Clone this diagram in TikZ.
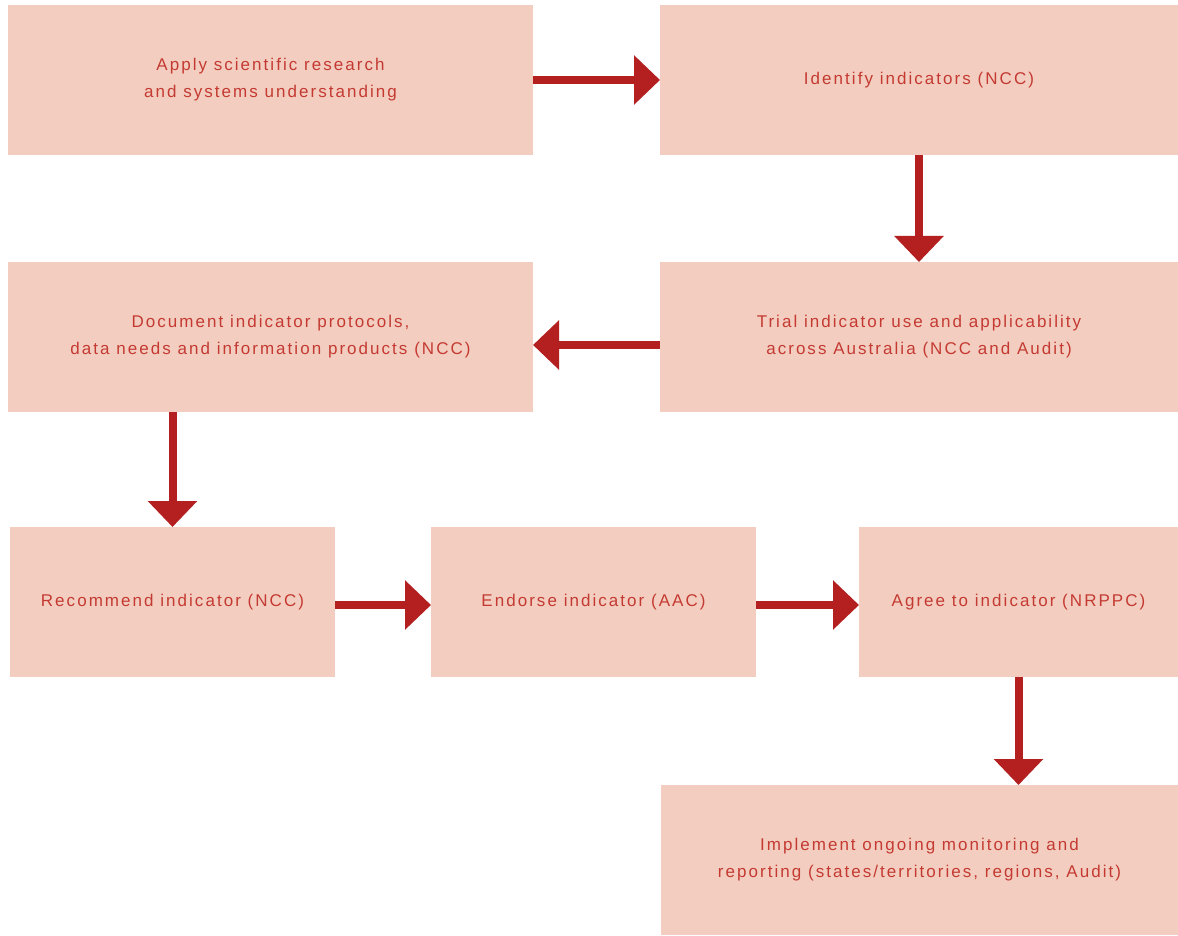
\documentclass[tikz,border=0pt]{standalone}
\usepackage{fontspec}
\newfontfamily\boxfont[LetterSpace=12]{Liberation Sans}
\usetikzlibrary{arrows.meta}
\definecolor{boxfill}{HTML}{F3CEC0}
\definecolor{boxtext}{HTML}{C43A32}
\definecolor{arrowred}{HTML}{B3201F}
\tikzset{
  stepbox/.style={rectangle, draw=none, fill=boxfill, inner sep=0pt, outer sep=0pt,
    minimum height=150pt, text=boxtext, align=center,
    font=\boxfont\fontsize{17}{27}\selectfont},
  flow/.style={draw=arrowred, line width=8pt,
    -{Triangle[width=48pt,length=26pt]}, arrowred}
}
\begin{document}
\begin{tikzpicture}[x=1pt,y=-1pt]
\useasboundingbox (0,0) rectangle (1178,936);
\fill[white] (0,0) rectangle (1178,936);
\node[stepbox, minimum width=525pt] (b1) at (270.5,80) {Apply scientific research\\and systems understanding};
\node[stepbox, minimum width=518pt] (b2) at (919,80) {Identify indicators (NCC)};
\node[stepbox, minimum width=525pt] (b3) at (270.5,337) {Document indicator protocols,\\data needs and information products (NCC)};
\node[stepbox, minimum width=518pt] (b4) at (919,337) {Trial indicator use and applicability\\across Australia (NCC and Audit)};
\node[stepbox, minimum width=325pt] (b5) at (172.5,602) {Recommend indicator (NCC)};
\node[stepbox, minimum width=325pt] (b6) at (593.5,602) {Endorse indicator (AAC)};
\node[stepbox, minimum width=319pt] (b7) at (1018.5,602) {Agree to indicator (NRPPC)};
\node[stepbox, minimum width=517pt] (b8) at (919.5,860) {Implement ongoing monitoring and\\reporting (states/territories, regions, Audit)};
\draw[flow] (b1.east) -- (b2.west);
\draw[flow] (b2.south) -- (b4.north);
\draw[flow] ([yshift=-8pt]b4.west) -- ([yshift=-8pt]b3.east);
\draw[flow] (b3.south -| b5.north) -- (b5.north);
\draw[flow] ([yshift=-3pt]b5.east) -- ([yshift=-3pt]b6.west);
\draw[flow] ([yshift=-3pt]b6.east) -- ([yshift=-3pt]b7.west);
\draw[flow] (b7.south) -- (b8.north -| b7.south);
\end{tikzpicture}
\end{document}
